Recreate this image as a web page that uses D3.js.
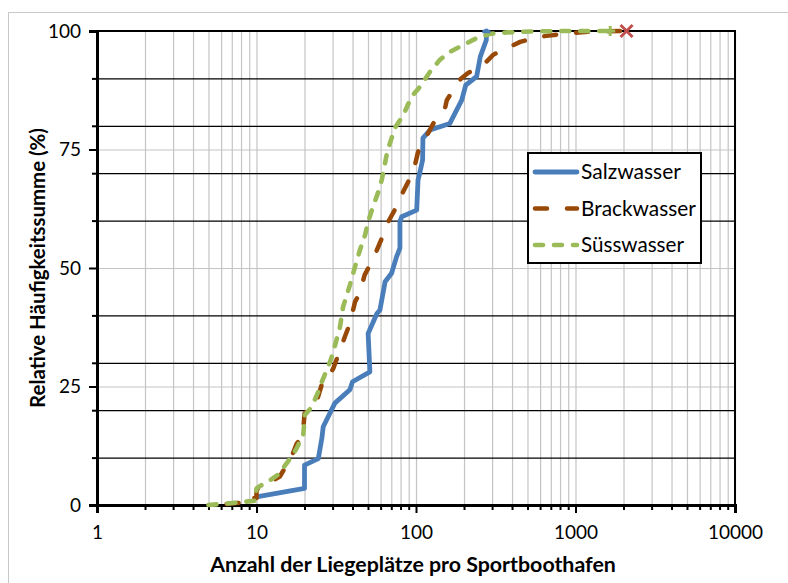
<!DOCTYPE html>
<html><head><meta charset="utf-8">
<script src="https://cdn.jsdelivr.net/npm/d3@7"></script>
<style>html,body{margin:0;padding:0;background:#fff;} svg{display:block;font-family:Lato,"Open Sans",sans-serif;}</style>
</head><body><svg id="c" width="788" height="583"></svg>
<script>
// ---- data ----
const seriesNames = ["Salzwasser", "Brackwasser", "Süsswasser"];
const salzX = [10, 20, 20, 24.4, 25.7, 26.2, 31, 38.5, 40, 51.4, 50.1, 56.9, 59.4, 64, 70.3, 75.6, 79.3, 79.3, 81.3, 101, 103, 105.5, 110, 110.5, 122.5, 163, 193.5, 205, 240, 253, 276, 276];
const salzP = [1.7, 3.5, 8.4, 9.8, 14.1, 16.5, 21.5, 24.3, 26, 28.1, 36.2, 40.4, 41.1, 47.1, 48.9, 52.4, 54.2, 59.8, 60.8, 62.2, 68.6, 70, 72.8, 77.4, 79.1, 80.5, 85.4, 88.6, 90.4, 94.6, 98.1, 100];
const brackX = [6.5, 7.5, 8, 8, 10, 10, 10.2, 11.3, 14, 14.4, 16.5, 17.9, 19.5, 20, 23.8, 26.2, 28.2, 30.3, 33.4, 35.8, 38.5, 41.5, 44.5, 47.6, 51.4, 56.9, 61.1, 67.1, 73.7, 81.2, 89.4, 98, 103, 122, 128.5, 152, 156, 188, 211, 252, 278, 305, 390, 450, 595, 880, 1290, 2090];
const brackP = [0.2, 0.4, 0.5, 1.4, 1.5, 3.0, 3.5, 4.2, 6, 6.7, 10, 13, 14.5, 19.3, 21.8, 26.4, 27, 28.8, 32.7, 35.5, 38.3, 42.9, 44.7, 48.5, 50.6, 53.8, 56.3, 59.8, 62.3, 65.4, 68.2, 71.4, 74.5, 79.1, 80.5, 83.7, 85.4, 89.7, 91.1, 92.5, 93.6, 95, 96.7, 97.7, 98.8, 99.5, 99.9, 100];
const suessX = [5, 6.5, 8, 9.8, 10, 11.6, 12.4, 14, 14.4, 16.6, 17.9, 18.7, 19.6, 20.1, 22.2, 23.2, 24.4, 25.7, 27.6, 28.9, 30.3, 33.4, 34.9, 38.5, 41.5, 44.5, 48, 50.1, 54.2, 58.1, 61, 63, 66, 73.6, 83.3, 93.7, 105.6, 122.5, 141, 163, 197, 240, 291, 370, 519, 830, 1650];
const suessP = [0, 0.3, 0.6, 0.9, 3.5, 4.9, 5.4, 6.7, 7.4, 10.2, 12, 13.4, 14.4, 19, 20.7, 22.2, 23.9, 26, 28.5, 30.2, 32.3, 37.6, 41.8, 46.4, 50.3, 53.8, 57, 59.8, 63.3, 66.1, 68.6, 71, 74.5, 79.5, 82.3, 86.1, 88.2, 91.4, 93.9, 95.6, 97, 98.5, 99.4, 99.7, 99.9, 100, 100];
const xMajorTicks = [1, 10, 100, 1000, 10000];
const yMajorTicks = [0, 25, 50, 75, 100];
const yMinorTicks = [10, 20, 30, 40, 60, 70, 80, 90];
const xTitle = "Anzahl der Liegeplätze pro Sportboothafen";
const yTitle = "Relative Häufigkeitssumme (%)";

// ---- layout ----
const L = 97, R = 735, T = 31, B = 505;
const svg = d3.select("#c");
const x = d3.scaleLog().domain([1, 10000]).range([L, R]);
const y = d3.scaleLinear().domain([0, 100]).range([B, T]);
const xMinorTicks = [];
for (let e = 0; e < 4; e++) for (let m = 2; m <= 9; m++) xMinorTicks.push(m * Math.pow(10, e));

// outer chart border
svg.append("rect").attr("x", 8.5).attr("y", 12.5).attr("width", 800).attr("height", 600)
  .attr("fill", "#fff").attr("stroke", "#c8c8c8").attr("stroke-width", 1);

// vertical gridlines
const gx = svg.append("g").attr("transform", `translate(0,${B})`)
  .call(d3.axisBottom(x).tickValues(xMajorTicks.concat(xMinorTicks)).tickSize(-(B - T)).tickFormat(""));
gx.select(".domain").remove();
gx.selectAll("line").attr("stroke", "#c4c4c4").attr("stroke-width", 1.2);

// horizontal grid: grey at major, black at minor
const gyMaj = svg.append("g").attr("transform", `translate(${L},0)`)
  .call(d3.axisLeft(y).tickValues([25, 50, 75]).tickSize(-(R - L)).tickFormat(""));
gyMaj.select(".domain").remove();
gyMaj.selectAll("line").attr("stroke", "#c4c4c4").attr("stroke-width", 1.2);
const gyMin = svg.append("g").attr("transform", `translate(${L},0)`)
  .call(d3.axisLeft(y).tickValues(yMinorTicks).tickSize(-(R - L)).tickFormat(""));
gyMin.select(".domain").remove();
gyMin.selectAll("line").attr("stroke", "#000").attr("stroke-width", 1.2);

// plot frame (top/right)
svg.append("rect").attr("x", L).attr("y", T).attr("width", R - L).attr("height", B - T)
  .attr("fill", "none").attr("stroke", "#000").attr("stroke-width", 2);

// axes
const xAxisMin = svg.append("g").attr("transform", `translate(0,${B})`)
  .call(d3.axisBottom(x).tickValues(xMinorTicks).tickSize(5).tickFormat(""));
xAxisMin.select(".domain").remove();
xAxisMin.selectAll("line").attr("stroke", "#000").attr("stroke-width", 2);
const xAxis = svg.append("g").attr("transform", `translate(0,${B})`)
  .call(d3.axisBottom(x).tickValues(xMajorTicks).tickSize(8).tickPadding(13).tickFormat(d3.format("d")));
xAxis.select(".domain").attr("stroke", "#000").attr("stroke-width", 3);
xAxis.selectAll("line").attr("stroke", "#000").attr("stroke-width", 2);
xAxis.selectAll("text").attr("font-size", 19).attr("fill", "#000");

const yAxisMin = svg.append("g").attr("transform", `translate(${L},0)`)
  .call(d3.axisLeft(y).tickValues(yMinorTicks).tickSize(5).tickFormat(""));
yAxisMin.select(".domain").remove();
yAxisMin.selectAll("line").attr("stroke", "#000").attr("stroke-width", 2);
const yAxis = svg.append("g").attr("transform", `translate(${L},0)`)
  .call(d3.axisLeft(y).tickValues(yMajorTicks).tickSize(8).tickPadding(8).tickFormat(d3.format("d")));
yAxis.select(".domain").attr("stroke", "#000").attr("stroke-width", 3);
yAxis.selectAll("line").attr("stroke", "#000").attr("stroke-width", 2);
yAxis.selectAll("text").attr("font-size", 19).attr("fill", "#000");
[xAxis, yAxis, xAxisMin, yAxisMin, gx, gyMaj, gyMin].forEach(g => g.attr("font-family", null));

// series
const colors = ["#4a7ebb", "#984807", "#9bbb59"];
const dashes = [null, "12,20", "8,11"];
const widths = [4.8, 4.5, 4.6];
const data = [
  d3.zip(salzX, salzP),
  d3.zip(brackX, brackP),
  d3.zip(suessX, suessP)
];
const line = d3.line().x(d => x(d[0])).y(d => y(d[1]));
data.forEach((d, i) => {
  svg.append("path").attr("d", line(d)).attr("fill", "none")
    .attr("stroke", colors[i]).attr("stroke-width", widths[i])
    .attr("stroke-linejoin", "round").attr("stroke-linecap", "round")
    .attr("stroke-dasharray", dashes[i]);
});

// end markers
const endS = data[0][data[0].length - 1];
svg.append("line").attr("x1", x(endS[0]) - 4).attr("x2", x(endS[0]) + 4)
  .attr("y1", y(endS[1]) + 0.5).attr("y2", y(endS[1]) + 0.5)
  .attr("stroke", colors[0]).attr("stroke-width", 3.5);
const endG = data[2][data[2].length - 1];
const gcx = x(endG[0]), gcy = y(endG[1]);
svg.append("path").attr("d", `M${gcx - 5},${gcy}H${gcx + 5}M${gcx},${gcy - 5}V${gcy + 5}`)
  .attr("stroke", colors[2]).attr("stroke-width", 3);
const endB = data[1][data[1].length - 1];
const bcx = x(endB[0]), bcy = y(endB[1]);
svg.append("path").attr("d", `M${bcx - 6},${bcy - 6}L${bcx + 6},${bcy + 6}M${bcx - 6},${bcy + 6}L${bcx + 6},${bcy - 6}`)
  .attr("stroke", "#c0504d").attr("stroke-width", 3);

// helper: fit text width
function fit(sel, target) {
  const fs = +sel.attr("font-size");
  const w = sel.node().getComputedTextLength();
  if (w > 0) sel.attr("font-size", fs * target / w);
}

// axis titles
const xt = svg.append("text").attr("x", (L + R) / 2 - 3).attr("y", 572).attr("text-anchor", "middle")
  .attr("font-size", 17).attr("font-weight", "bold").attr("fill", "#000").text(xTitle);
fit(xt, 406);
const yt = svg.append("text").attr("transform", `translate(45,268) rotate(-90)`).attr("text-anchor", "middle")
  .attr("font-size", 17).attr("font-weight", "bold").attr("fill", "#000").text(yTitle);
fit(yt, 280);

// legend
const lg = svg.append("g");
lg.append("rect").attr("x", 528).attr("y", 153).attr("width", 173).attr("height", 110)
  .attr("fill", "#fff").attr("stroke", "#000").attr("stroke-width", 2);
const rowY = [172, 208.5, 245];
const textW = [100, 115, 103];
seriesNames.forEach((n, i) => {
  lg.append("line").attr("x1", 535).attr("x2", 577).attr("y1", rowY[i]).attr("y2", rowY[i])
    .attr("stroke", colors[i]).attr("stroke-width", widths[i])
    .attr("stroke-linecap", "round").attr("stroke-dasharray", dashes[i]);
  const t = lg.append("text").attr("x", 581).attr("y", rowY[i] + 7).attr("font-size", 19)
    .attr("fill", "#000").text(n);
  fit(t, textW[i]);
});
</script></body></html>
